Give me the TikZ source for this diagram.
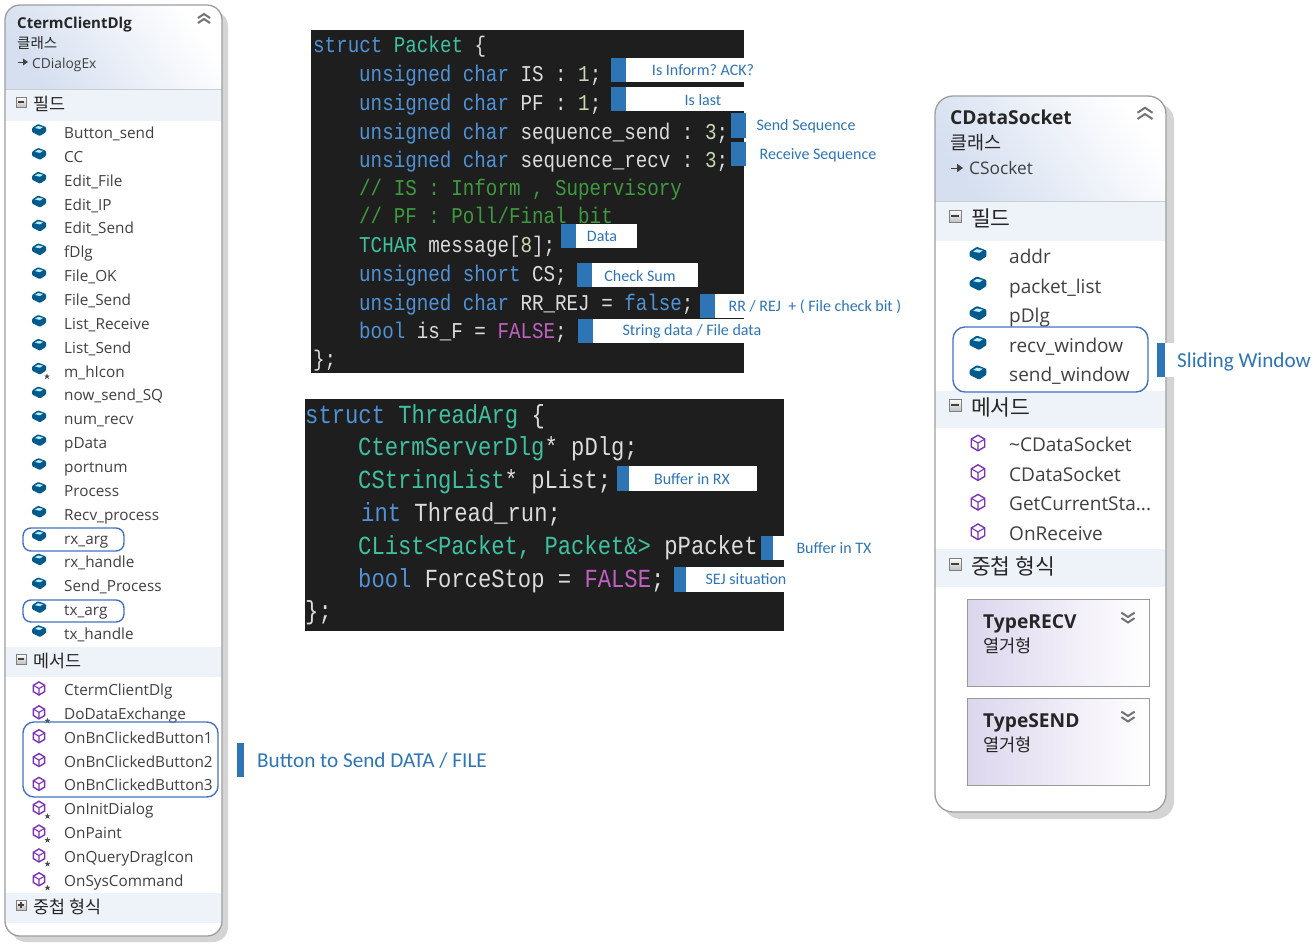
\documentclass[tikz,border=0pt]{standalone}
\usepackage{fontspec}
\setmainfont{Open Sans}
\newfontfamily\krfont{Noto Sans CJK KR}
\newfontfamily\notefont{Carlito}
\newfontfamily\codefont[FakeStretch=0.85]{Liberation Mono}
\definecolor{kwc}{HTML}{4F93D6}
\definecolor{tyc}{HTML}{3FC1A0}
\definecolor{cmc}{HTML}{3E9A3E}
\definecolor{puc}{HTML}{C060C0}
\definecolor{nuc}{HTML}{C8D8B0}
\definecolor{plc}{HTML}{DCDCDC}
\definecolor{codebg}{HTML}{1E1E1E}
\definecolor{noteblue}{HTML}{2E75B6}
\definecolor{ringblue}{HTML}{4472C4}
\definecolor{barbg}{HTML}{EEF2F9}
\definecolor{itemc}{HTML}{404040}
\definecolor{headc}{HTML}{D5DFF0}
\definecolor{nestc}{HTML}{DCD6ED}
\newcommand\ckw[1]{\textcolor{kwc}{#1}}
\newcommand\cty[1]{\textcolor{tyc}{#1}}
\newcommand\ccm[1]{\textcolor{cmc}{#1}}
\newcommand\cpu[1]{\textcolor{puc}{#1}}
\newcommand\cnu[1]{\textcolor{nuc}{#1}}
\newcommand\fsz[1]{\fontsize{#1}{#1}\selectfont}
\newcommand\gcsname{GetCurrentSta...}
\frenchspacing
\tikzset{
  x=1pt,y=-1pt,
  txt/.style={inner sep=0pt,anchor=base west},
  leftitem/.style={txt,text=itemc,font=\fsz{15.3}},
  leftbase/.style={txt,text=itemc,font=\fsz{13.8}},
  rightitem/.style={txt,text=itemc,font=\fsz{19}},
  rightbase/.style={txt,text=itemc,font=\fsz{17.3}},
  lefttitle/.style={txt,text=black!85,font=\bfseries\fsz{15}},
  righttitle/.style={txt,text=black!85,font=\bfseries\fsz{19.2}},
  leftkr/.style={txt,text=black!85,font=\krfont\fsz{14.5}},
  leftsec/.style={txt,text=black!85,font=\krfont\fsz{17.4}},
  rightkr/.style={txt,text=black!85,font=\krfont\fsz{18.5}},
  rightsec/.style={txt,text=black!85,font=\krfont\fsz{21.5}},
  nestkr/.style={txt,text=black!85,font=\krfont\fsz{17.6}},
  smallcode/.style={txt,text=plc,font=\codefont\fsz{22.6}},
  bigcode/.style={txt,text=plc,font=\codefont\fsz{26.1}},
  notetxt/.style={inner sep=0pt,anchor=center,text=noteblue,font=\notefont\fsz{16}},
  bignote/.style={inner sep=0pt,anchor=west,text=noteblue,font=\notefont\fsz{21.2}},
  ring/.style={draw=ringblue,line width=1.4pt,rounded corners=8pt},
  classshadow/.style={fill=black!17,rounded corners=#1},
  classframe/.style={draw=black!38,line width=1.3pt,rounded corners=#1},
  pics/fieldicon/.style={code={
    \fill[fill=blue!35!cyan!55!black,rounded corners=1pt] (-7,-2)--(-1,-6)--(7,-3)--(7,2)--(1,6)--(-7,2)--cycle;
    \fill[fill=cyan!25] (-4,-2)--(-1,-4)--(4,-3)--(1,-1)--cycle;
  }},
  pics/methodicon/.style={code={
    \draw[draw=violet!70!blue!80,line width=1.4pt,fill=white] (0,-6.5)--(5.6,-3.2)--(5.6,3.2)--(0,6.5)--(-5.6,3.2)--(-5.6,-3.2)--cycle;
    \draw[draw=violet!70!blue!80,line width=1.1pt] (-5.6,-3.2)--(0,0)--(5.6,-3.2) (0,0)--(0,6.5);
  }},
  pics/staricon/.style={code={
    \fill[fill=black!70] (0,-3)--(.8,-1)--(3,-1)--(1.2,.4)--(1.9,2.6)--(0,1.2)--(-1.9,2.6)--(-1.2,.4)--(-3,-1)--(-.8,-1)--cycle;
  }},
  pics/chevup/.style={code={
    \draw[draw=black!55,line width=2pt] (-6,-1)--(0,-5)--(6,-1) (-6,4)--(0,0)--(6,4);
  }},
  pics/chevdown/.style={code={
    \draw[draw=black!55,line width=2pt] (-6,-4)--(0,0)--(6,-4) (-6,1)--(0,5)--(6,1);
  }},
  pics/inherit/.style={code={
    \draw[draw=black!75,line width=1pt] (-5,0)--(2,0);
    \fill[fill=black!75] (0,-3.5)--(5,0)--(0,3.5)--cycle;
  }},
  pics/minusbox/.style={code={
    \draw[draw=black!50,top color=white,bottom color=black!25] (-5,-5) rectangle (5,5);
    \draw[draw=black!75,line width=1.2pt] (-3,0)--(3,0);
  }},
  pics/plusbox/.style={code={
    \draw[draw=black!50,top color=white,bottom color=black!25] (-5,-5) rectangle (5,5);
    \draw[draw=black!75,line width=1.2pt] (-3,0)--(3,0) (0,-3)--(0,3);
  }},
}
\begin{document}
\begin{tikzpicture}
\useasboundingbox (0,0) rectangle (1315,943);
\fill[white] (0,0) rectangle (1315,943);

% ---------- left class
\fill[classshadow=15pt] (11,11) rectangle (228,942);
\fill[white,rounded corners=15pt] (5,5) rectangle (222,936);
\begin{scope}
  \clip[rounded corners=15pt] (5,5) rectangle (222,936);
  \shade[bottom color=headc,top color=white,shading angle=-55] (5,5) rectangle (222,89);
  \fill[barbg] (5,90) rectangle (222,121);
  \fill[barbg] (5,647) rectangle (222,677);
  \fill[barbg] (5,893) rectangle (222,923);
  \draw[black!20] (5,89.5)--(222,89.5);
\end{scope}
\draw[classframe=15pt] (5,5) rectangle (222,936);
\node[lefttitle] (ltitle) at (17,28) {CtermClientDlg};
\node[leftkr] (lkind) at (17,48) {클래스};
\pic at (23,62) {inherit};
\node[leftbase] (lbase) at (32,68) {CDialogEx};
\pic at (204,19) {chevup};
\pic at (21,102) {minusbox};
\node[leftsec] (lsec1) at (33,110) {필드};
\pic at (21,659) {minusbox};
\node[leftsec] (lsec2) at (33,667) {메서드};
\pic at (21,905) {plusbox};
\node[leftsec] (lsec3) at (33,913) {중첩 형식};
\foreach \t [count=\i] in {Button\_send,CC,Edit\_File,Edit\_IP,Edit\_Send,fDlg,File\_OK,File\_Send,List\_Receive,List\_Send,m\_hIcon,now\_send\_SQ,num\_recv,pData,portnum,Process,Recv\_process,rx\_arg,rx\_handle,Send\_Process,tx\_arg,tx\_handle}{
  \pgfmathsetmacro\yy{133+(\i-1)*23.86}
  \pic at (39,\yy-3) {fieldicon};
  \node[leftitem] (lf\i) at (64,\yy+5.5) {\t};
}
\pic at (47,376.5) {staricon};
\foreach \t/\s [count=\i] in {CtermClientDlg/0,DoDataExchange/1,OnBnClickedButton1/0,OnBnClickedButton2/0,OnBnClickedButton3/0,OnInitDialog/1,OnPaint/1,OnQueryDragIcon/1,OnSysCommand/1}{
  \pgfmathsetmacro\yy{690+(\i-1)*23.85}
  \pic at (39,\yy-1.5) {methodicon};
  \ifnum\s=1 \pic at (47.5,\yy+7) {staricon}; \fi
  \node[leftitem] (lm\i) at (64,\yy+5.5) {\t};
}
\draw[ring] (23,528) rectangle (124,551);
\draw[ring] (23,600) rectangle (124,622);
\draw[ring,rounded corners=11pt] (23,722) rectangle (218,797);
\fill[noteblue] (237,743) rectangle (244,777);
\node[bignote] (nbtn) at (257,761) {Button to Send DATA / FILE};

% ---------- struct Packet
\fill[codebg] (311,30) rectangle (744,373);
\node[smallcode] (p1) at (313,52) {\ckw{struct} \cty{Packet} \{};
\node[smallcode] (p2) at (359,81) {\ckw{unsigned char} IS : \cnu{1};};
\node[smallcode] (p3) at (359,110) {\ckw{unsigned char} PF : \cnu{1};};
\node[smallcode] (p4) at (359,139) {\ckw{unsigned char} sequence\_send : \cnu{3};};
\node[smallcode] (p5) at (359,167) {\ckw{unsigned char} sequence\_recv : \cnu{3};};
\node[smallcode] (p6) at (359,195) {\ccm{// IS : Inform , Supervisory}};
\node[smallcode] (p7) at (359,223.5) {\ccm{// PF : Poll/Final bit}};
\node[smallcode] (p8) at (359,252) {\cty{TCHAR} message[\cnu{8}];};
\node[smallcode] (p9) at (359,281) {\ckw{unsigned short} CS;};
\node[smallcode] (p10) at (359,310) {\ckw{unsigned char} RR\_REJ = \ckw{false};};
\node[smallcode] (p11) at (359,338) {\ckw{bool} is\_F = \cpu{FALSE};};
\node[smallcode] (p12) at (313,366) {\};};

\foreach \bx/\wx/\ya/\yb/\tx/\ty/\lbl [count=\i] in {
  611/744/58/82/703/70.5/{Is Inform? ACK?},
  611/744/87/111/703/100.5/{Is last},
  731/744/113/138/806/126.5/{Send Sequence},
  731/744/142/166/818/155.5/{Receive Sequence},
  561/637/224/248/602/236.5/{Data},
  577/698/263/287/640/275.5/{Check Sum},
  700/744/294/318/815/306.5/{RR / REJ \ + ( File check bit )},
  578/744/319/343/692/331.5/{String data / File data}}{
  \pgfmathsetmacro\bxe{\bx+15}
  \fill[white] (\bx,\ya) rectangle (\wx,\yb);
  \fill[noteblue] (\bx,\ya) rectangle (\bxe,\yb);
  \node[notetxt] (pn\i) at (\tx,\ty) {\lbl};
}

% ---------- struct ThreadArg
\fill[codebg] (305,399) rectangle (784,631);
\node[bigcode] (t1) at (305,423) {\ckw{struct} \cty{ThreadArg} \{};
\node[bigcode] (t2) at (358,455) {\cty{CtermServerDlg}* pDlg;};
\node[bigcode] (t3) at (358,488) {\cty{CStringList}* pList;};
\node[bigcode] (t4) at (361,521) {\ckw{int} Thread\_run;};
\node[bigcode] (t5) at (358,554) {\cty{CList<Packet, Packet\&>} pPacket};
\node[bigcode] (t6) at (358,587) {\ckw{bool} ForceStop = \cpu{FALSE};};
\node[bigcode] (t7) at (305,619) {\};};

\foreach \bx/\wx/\ya/\yb/\tx/\ty/\lbl [count=\i] in {
  617/757/466/491/692/479.5/{Buffer in RX},
  761/784/536/560/834/548.5/{Buffer in TX},
  674/784/567/592/746/579.5/{SEJ situation}}{
  \pgfmathsetmacro\bxe{\bx+12}
  \fill[white] (\bx,\ya) rectangle (\wx,\yb);
  \fill[noteblue] (\bx,\ya) rectangle (\bxe,\yb);
  \node[notetxt] (tn\i) at (\tx,\ty) {\lbl};
}

% ---------- right class
\fill[classshadow=18pt] (943,103) rectangle (1174,819);
\fill[white,rounded corners=18pt] (935,96) rectangle (1166,812);
\begin{scope}
  \clip[rounded corners=18pt] (935,96) rectangle (1166,812);
  \shade[bottom color=headc,top color=white,shading angle=-55] (935,96) rectangle (1166,201);
  \fill[barbg] (935,202) rectangle (1166,241);
  \fill[barbg] (935,391) rectangle (1166,428);
  \fill[barbg] (935,549) rectangle (1166,587);
  \draw[black!20] (935,201.5)--(1166,201.5);
\end{scope}
\draw[classframe=18pt] (935,96) rectangle (1166,812);
\node[righttitle] (rtitle) at (950,124) {CDataSocket};
\node[rightkr] (rkind) at (950,149.5) {클래스};
\pic[scale=1.2] at (957,168) {inherit};
\node[rightbase] (rbase) at (969,174.5) {CSocket};
\pic[scale=1.25] at (1145,114) {chevup};
\pic[scale=1.2] at (955,216) {minusbox};
\node[rightsec] (rsec1) at (971,226) {필드};
\pic[scale=1.2] at (955,405) {minusbox};
\node[rightsec] (rsec2) at (971,415) {메서드};
\pic[scale=1.2] at (955,564) {minusbox};
\node[rightsec] (rsec3) at (971,574) {중첩 형식};
\foreach \t [count=\i] in {addr,packet\_list,pDlg,recv\_window,send\_window}{
  \pgfmathsetmacro\yy{256+(\i-1)*29.6}
  \pic[scale=1.2] at (978,\yy-2) {fieldicon};
  \node[rightitem] (rf\i) at (1009,\yy+7.5) {\t};
}
\foreach \t [count=\i] in {\textasciitilde CDataSocket,CDataSocket,\gcsname,OnReceive}{
  \pgfmathsetmacro\yy{444+(\i-1)*29.6}
  \pic[scale=1.2] at (978,\yy-1) {methodicon};
  \node[rightitem] (rm\i) at (1009,\yy+7.5) {\t};
}
\foreach \ya/\yb/\t [count=\i] in {599/686/TypeRECV,698/785/TypeSEND}{
  \shade[left color=nestc,right color=white,draw=black!40,line width=1pt] (967,\ya) rectangle (1149,\yb);
  \node[righttitle] (rn\i) at (983,\ya+29) {\t};
  \node[nestkr] (rk\i) at (983,\ya+53) {열거형};
  \pic[scale=1.1] at (1128,\ya+18) {chevdown};
}
\draw[ring,rounded corners=12pt] (953,327) rectangle (1148,392);
\fill[white] (1157,343) rectangle (1177,377);
\fill[noteblue] (1157,343) rectangle (1165,377);
\node[bignote] (nslide) at (1177,361.5) {Sliding Window};
\end{tikzpicture}
\end{document}
